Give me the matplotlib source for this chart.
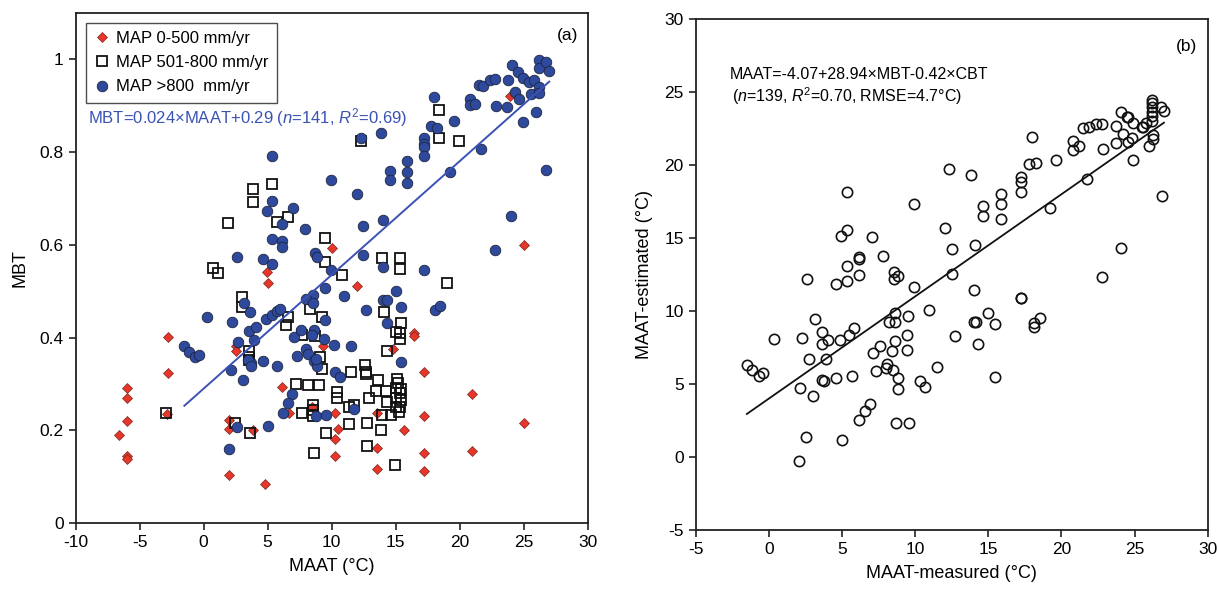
import numpy as np
import matplotlib
matplotlib.use("Agg")
import matplotlib.pyplot as plt

plt.rcParams['font.family'] = ['Liberation Sans', 'DejaVu Sans']
plt.rcParams['axes.unicode_minus'] = False
plt.rcParams['mathtext.fontset'] = 'custom'
plt.rcParams['mathtext.rm'] = 'Liberation Sans'
plt.rcParams['mathtext.it'] = 'Liberation Sans:italic'

#%% panel (a) data: MBT vs MAAT, split by MAP class
red_x = [-6.63, -5.96, -5.96, -5.96, -5.96, -5.96, -2.81, -2.81, -2.86, 1.99, 1.99, 1.99,
         2.53, 2.53, 3.87, 4.81, 4.95, 5.0, 6.11, 6.65, 8.5, 9.31, 10.01, 10.26, 10.5,
         10.26, 10.26, 12.0, 13.57, 13.57, 13.57, 14.78, 15.67, 16.4, 16.4, 17.25, 17.2,
         17.2, 17.2, 20.96, 20.96, 23.94, 25.02, 25.02]
red_y = [0.19, 0.292, 0.271, 0.221, 0.145, 0.138, 0.401, 0.323, 0.236, 0.223, 0.203, 0.104,
         0.382, 0.372, 0.2, 0.085, 0.541, 0.517, 0.293, 0.237, 0.251, 0.382, 0.592, 0.237, 0.203,
         0.182, 0.146, 0.511, 0.238, 0.162, 0.116, 0.375, 0.2, 0.411, 0.404, 0.327, 0.231,
         0.152, 0.113, 0.278, 0.156, 0.921, 0.6, 0.215]

sq_x = [-2.94, 0.72, 1.12, 1.93, 2.47, 2.98, 2.98, 3.55, 3.55, 3.55, 3.6, 3.87, 3.87, 5.35,
        5.76, 6.4, 6.57, 6.62, 7.24, 7.72, 7.72, 8.18, 8.32, 8.53, 8.53, 8.53, 8.64, 8.72,
        9.04, 9.07, 9.26, 9.26, 9.47, 9.47, 9.53, 10.42, 10.42, 10.82, 11.36, 11.36, 11.55,
        11.74, 12.28, 12.61, 12.65, 12.71, 12.76, 12.76, 12.9, 13.5, 13.62, 13.84, 13.9,
        13.97, 14.11, 14.24, 14.32, 14.3, 14.64, 14.95, 15.0, 15.13, 15.05, 15.32, 15.32,
        15.32, 15.32, 15.45, 15.2, 15.35, 15.0, 15.4, 15.0, 15.35, 15.25, 15.45, 18.42,
        18.42, 19.04, 19.95]
sq_y = [0.238, 0.55, 0.539, 0.647, 0.217, 0.487, 0.465, 0.372, 0.358, 0.352, 0.194, 0.72,
        0.692, 0.732, 0.649, 0.427, 0.66, 0.444, 0.3, 0.406, 0.237, 0.297, 0.461, 0.255, 0.245,
        0.232, 0.152, 0.404, 0.299, 0.358, 0.445, 0.332, 0.615, 0.562, 0.194, 0.282, 0.271,
        0.534, 0.25, 0.214, 0.325, 0.255, 0.823, 0.341, 0.327, 0.321, 0.215, 0.167, 0.269,
        0.285, 0.309, 0.2, 0.572, 0.233, 0.456, 0.284, 0.372, 0.261, 0.233, 0.126, 0.413,
        0.311, 0.292, 0.572, 0.547, 0.411, 0.396, 0.432, 0.302, 0.28, 0.27, 0.265, 0.25,
        0.25, 0.24, 0.29, 0.89, 0.831, 0.518, 0.823]

blue_x = [5.35, 9.96, 12.0, 12.28, 13.84, 4.95, 5.35, 7.0, 6.1, 7.89, 12.49, 14.05, 14.59,
          14.59, 15.91, 15.91, 15.91, 17.21, 17.21, 17.21, 17.21, 17.96, 17.74, 18.23, 19.58,
          19.23, 21.7, 20.79, 20.79, 21.19, 21.54, 21.86, 22.4, 22.78, 22.86, 23.7, 23.8,
          24.07, 24.56, 24.29, 24.61, 24.94, 24.94, 25.42, 25.58, 25.82, 26.17, 26.17, 26.77,
          26.98, 26.23, 26.23, 25.96, 26.77, 24.02, 22.78, 2.58, 4.63, 5.35, 5.35, 6.1, 6.1,
          8.67, 8.86, 9.96, 12.49, 14.05, 17.21,
          9.5, 10.96, 15.0, 14.03, 14.3, 12.68, 15.4, 14.3, 18.09, 18.5, 8.57, 7.98, 8.57,
          0.29, 2.26, 3.15, 3.6, 4.87, 5.35, 5.76, 5.95, 9.45, 3.55, 4.06, 2.71, 3.93, 7.1,
          7.64, 8.64, 8.45, 9.39, 10.15, 11.55, -1.52, -1.16, -0.63, -0.36, 7.29, 7.99, 8.18,
          8.59, 8.86, 8.77, 4.63, 3.74, 3.5, 3.68, 5.7, 2.18, 3.06, 10.26, 10.69, 15.4, 6.89,
          6.62, 6.22, 8.77, 9.58, 11.74, 2.61, 5.0, 1.99]
blue_y = [0.792, 0.739, 0.709, 0.831, 0.84, 0.672, 0.694, 0.679, 0.644, 0.634, 0.64, 0.654,
          0.759, 0.739, 0.781, 0.757, 0.733, 0.831, 0.818, 0.811, 0.792, 0.919, 0.856, 0.851,
          0.867, 0.756, 0.806, 0.915, 0.901, 0.903, 0.944, 0.942, 0.955, 0.957, 0.898, 0.896,
          0.954, 0.988, 0.973, 0.929, 0.914, 0.959, 0.865, 0.95, 0.924, 0.955, 0.999, 0.981,
          0.993, 0.975, 0.939, 0.926, 0.887, 0.761, 0.663, 0.589, 0.573, 0.569, 0.559, 0.613,
          0.609, 0.595, 0.582, 0.573, 0.546, 0.577, 0.552, 0.546,
          0.506, 0.49, 0.501, 0.481, 0.481, 0.46, 0.465, 0.432, 0.46, 0.469, 0.492, 0.483,
          0.475, 0.444, 0.434, 0.475, 0.456, 0.44, 0.449, 0.457, 0.461, 0.437, 0.414, 0.422,
          0.391, 0.395, 0.402, 0.417, 0.417, 0.406, 0.397, 0.384, 0.383, 0.383, 0.37, 0.358,
          0.363, 0.361, 0.376, 0.365, 0.35, 0.338, 0.355, 0.35, 0.346, 0.352, 0.339, 0.338,
          0.33, 0.309, 0.325, 0.316, 0.348, 0.279, 0.26, 0.238, 0.231, 0.233, 0.246, 0.208,
          0.21, 0.159]

# regression MBT = a*MAAT + b, drawn over the measured range
fit_a = [0.0245, 0.29]
fit_a_range = [-1.5, 27.0]

#%% panel (b) data: estimated vs measured MAAT
meas = [2.59, 4.57, 5.33, 5.33, 6.14, 6.14, 6.14, 5.33, 4.95, 7.03, 5.33, 7.81, 8.57, 8.57,
        8.85, 9.94, 9.94, 12.01, 12.32, 12.52, 12.52, 13.84, 14.06, 14.01, 14.62, 14.62,
        15.89, 15.89, 15.89, 17.23, 17.23, 17.23, 17.23, 18.01, 17.78, 18.24, 19.23, 19.61,
        20.77, 20.82, 21.2, 21.48, 21.91, 22.39, 22.8, 21.73, 22.85, 22.8, 23.76, 23.71,
        24.06, 24.19, 24.57, 24.57, 24.82, 24.92, 24.87, 24.06, 25.51, 25.81, 25.99, 26.22,
        26.22, 26.22, 26.22, 26.22, 26.22, 26.27, 26.27, 26.82, 27.03, 26.85, 24.5, 25.55,
        -1.48, -1.18, -0.65, -0.37, 0.37, 2.27, 2.14, 2.54, 2.04, 2.72, 3.0, 3.13, 3.61,
        3.61, 3.61, 3.78, 3.94, 4.06, 4.62, 4.87, 5.46, 5.84, 5.68, 5.03, 6.14, 6.59, 6.92,
        7.1, 7.63, 7.3, 7.99, 8.11, 8.19, 8.42, 8.52, 8.59, 8.62, 8.62, 8.85, 8.85, 8.72,
        9.58, 9.41, 9.41, 9.51, 10.32, 10.65, 10.97, 11.51, 12.75, 13.99, 14.19, 14.32, 15.0,
        15.43, 15.43, 17.23, 18.09, 18.09, 18.54]
est = [12.2, 11.87, 12.03, 13.07, 12.44, 13.58, 13.7, 15.53, 15.17, 15.08, 18.13, 13.8, 12.67,
       12.17, 12.4, 17.36, 11.66, 15.67, 19.73, 14.26, 12.57, 19.3, 14.53, 11.41, 17.18, 16.49,
       18.02, 17.36, 16.31, 19.16, 18.84, 18.13, 10.9, 21.89, 20.09, 20.14, 17.04, 20.34,
       21.62, 21.05, 21.32, 22.53, 22.6, 22.82, 22.82, 19.04, 21.12, 12.35, 22.64, 21.5,
       23.63, 22.1, 21.55, 23.28, 21.84, 22.87, 20.36, 14.31, 22.6, 22.87, 21.32, 24.46,
       24.24, 23.96, 23.64, 23.33, 23.05, 22.07, 21.78, 23.96, 23.73, 17.86, 23.26, 22.6,
       6.32, 5.93, 5.57, 5.75, 8.08, 8.13, 4.72, 1.34, -0.24, 6.73, 4.15, 9.43, 8.54, 7.71,
       5.29, 5.2, 6.73, 7.99, 5.41, 8.03, 8.35, 8.83, 5.57, 1.15, 2.55, 3.12, 3.62, 7.1,
       7.62, 5.86, 6.09, 6.37, 9.22, 7.23, 5.93, 7.92, 9.86, 9.25, 5.41, 4.65, 2.32, 2.32,
       8.35, 7.35, 9.63, 5.18, 4.83, 10.05, 6.14, 8.26, 9.22, 9.22, 7.76, 9.86, 9.13, 5.45,
       10.87, 9.18, 8.93, 9.5]

fit_b = [0.70, 4.0]
fit_b_range = [-1.5, 27.0]

#%%
fig = plt.figure(figsize=(12.2, 5.95), dpi=100)
ax_a = fig.add_axes([0.0619, 0.1205, 0.4198, 0.8582])
ax_b = fig.add_axes([0.5702, 0.1092, 0.4198, 0.8588])

blue_line = '#3a52b4'

ax_a.plot(red_x, red_y, ls='none', marker='D', ms=5.2, mfc='#e8362a', mec='#7a2a22',
          mew=0.5, label='MAP 0-500 mm/yr', zorder=3)
ax_a.plot(sq_x, sq_y, ls='none', marker='s', ms=6.8, mfc='none', mec='#111111',
          mew=1.3, label='MAP 501-800 mm/yr', zorder=3)
ax_a.plot(blue_x, blue_y, ls='none', marker='o', ms=7.6, mfc='#2f4a9c', mec='#1c2540',
          mew=0.6, label='MAP >800  mm/yr', zorder=3)

xf = np.array(fit_a_range)
ax_a.plot(xf, fit_a[0] * xf + fit_a[1], color=blue_line, lw=1.4, zorder=4)

ax_a.set_xlim(-10, 30)
ax_a.set_ylim(0, 1.1)
ax_a.set_xticks(np.arange(-10, 31, 5))
ax_a.set_yticks([0, 0.2, 0.4, 0.6, 0.8, 1.0])
ax_a.set_yticklabels(['0', '0.2', '0.4', '0.6', '0.8', '1'])
ax_a.set_xlabel('MAAT (\u00b0C)', fontsize=13, labelpad=6)
ax_a.set_ylabel('MBT', fontsize=13, labelpad=8)

leg = ax_a.legend(loc='upper left', fontsize=12, frameon=True, fancybox=False,
                  borderpad=0.5, handletextpad=0.35, handlelength=1.0,
                  labelspacing=0.55, borderaxespad=0.6)
leg.get_frame().set_edgecolor('#222222')
leg.get_frame().set_linewidth(1.0)

ax_a.text(-9.0, 0.873, 'MBT=0.024\u00d7MAAT+0.29 ($\\it{n}$=141, $\\it{R}^2$=0.69)',
          color=blue_line, fontsize=12, va='center', ha='left')
ax_a.text(29.3, 1.05, '(a)', fontsize=12.5, ha='right', va='center')

ax_b.plot(meas, est, ls='none', marker='o', ms=7.4, mfc='none', mec='#111111', mew=1.2,
          zorder=3)
xb = np.array(fit_b_range)
ax_b.plot(xb, fit_b[0] * xb + fit_b[1], color='#111111', lw=1.3, zorder=4)

ax_b.set_xlim(-5, 30)
ax_b.set_ylim(-5, 30)
ax_b.set_xticks(np.arange(-5, 31, 5))
ax_b.set_yticks(np.arange(-5, 31, 5))
ax_b.set_xlabel('MAAT-measured (\u00b0C)', fontsize=13, labelpad=6)
ax_b.set_ylabel('MAAT-estimated (\u00b0C)', fontsize=13, labelpad=8)

ax_b.text(-2.7, 26.2, 'MAAT=-4.07+28.94\u00d7MBT-0.42\u00d7CBT', fontsize=11.5,
          ha='left', va='center')
ax_b.text(-2.5, 24.75, '($\\it{n}$=139, $\\it{R}^2$=0.70, RMSE=4.7\u00b0C)', fontsize=11.5,
          ha='left', va='center')
ax_b.text(29.3, 28.1, '(b)', fontsize=12.5, ha='right', va='center')

for ax in (ax_a, ax_b):
    for s in ax.spines.values():
        s.set_linewidth(1.3)
        s.set_color('#222222')
    ax.tick_params(direction='out', length=5, width=1.2, labelsize=12.5, top=False,
                   right=False, color='#222222')

fig.savefig('out.png', dpi=100)
